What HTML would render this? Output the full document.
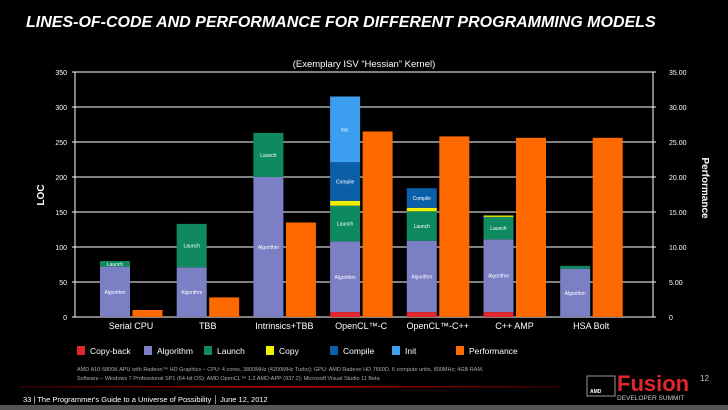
<!DOCTYPE html>
<html><head><meta charset="utf-8"><style>
body{margin:0;background:#000;width:728px;height:410px;overflow:hidden;font-family:"Liberation Sans",sans-serif;color:#fff}
svg{position:absolute;left:0;top:0}
</style></head><body>
<svg width="728" height="410">
<text x="26" y="27" font-size="16" font-weight="bold" font-style="italic" fill="#fff">LINES-OF-CODE AND PERFORMANCE FOR DIFFERENT PROGRAMMING MODELS</text>
<text x="364" y="67" font-size="9.5" fill="#fff" text-anchor="middle">(Exemplary ISV “Hessian” Kernel)</text>
<g id="grid"></g><g id="bars"></g><g id="axes"></g>
<text transform="translate(44,195) rotate(-90)" font-size="10" font-weight="bold" fill="#fff" text-anchor="middle">LOC</text>
<text transform="translate(702,188) rotate(90)" font-size="10" font-weight="bold" fill="#fff" text-anchor="middle">Performance</text>
<g id="legend"></g>
<text x="77" y="371" font-size="5.5" fill="#aaa">AMD A10-5800K APU with Radeon™ HD Graphics – CPU: 4 cores, 3800MHz (4200MHz Turbo); GPU: AMD Radeon HD 7660D, 6 compute units, 800MHz; 4GB RAM.</text>
<text x="77" y="380" font-size="5.5" fill="#aaa">Software – Windows 7 Professional SP1 (64-bit OS); AMD OpenCL™ 1.2 AMD-APP (937.2); Microsoft Visual Studio 11 Beta</text>
<defs><linearGradient id="rl" x1="0" x2="1"><stop offset="0" stop-color="#300"/><stop offset="0.5" stop-color="#c00"/><stop offset="1" stop-color="#300"/></linearGradient></defs>
<rect x="20" y="386" width="540" height="1.5" fill="url(#rl)"/>
<text x="23" y="402" font-size="7.5" fill="#fff">33 | The Programmer's Guide to a Universe of Possibility  │  June 12, 2012</text>
<rect x="0" y="405" width="728" height="5" fill="#555"/>
<g>
<rect x="587" y="376" width="28" height="20" fill="none" stroke="#999" stroke-width="1"/>
<text x="590" y="393" font-size="5" fill="#fff" font-weight="bold">AMD</text>
<text x="617" y="391" font-size="22" fill="#e3262b" font-weight="bold">Fusion</text>
<text x="700" y="381" font-size="8" fill="#ccc">12</text>
<text x="617" y="400" font-size="6.5" fill="#ccc">DEVELOPER SUMMIT</text>
</g>
</svg>
<script>
const categories=["Serial CPU","TBB","Intrinsics+TBB","OpenCL™-C","OpenCL™-C++","C++ AMP","HSA Bolt"];
const copyBack=[0,0,0,7,7,7,0];
const algorithm=[72,71,200,101,102,104,69];
const launch=[8,62,63,51,42,32,4];
const copy=[0,0,0,7,5,2,0];
const compile=[0,0,0,55,28,0,0];
const init=[0,0,0,94,0,0,0];
const performance=[1.0,2.8,13.5,26.5,25.8,25.6,25.6];
const locTicks=[0,50,100,150,200,250,300,350];
const perfTicks=["0","5.00","10.00","15.00","20.00","25.00","30.00","35.00"];
const NS="http://www.w3.org/2000/svg";
const x0=75,x1=653,yB=317,yT=72;
const yL=v=>yB-(v/350)*(yB-yT);
const yP=v=>yB-(v/35)*(yB-yT);
const gx=i=>100+i*76.7;
function mk(t,a,p,txt){const e=document.createElementNS(NS,t);for(const k in a)e.setAttribute(k,a[k]);if(txt!=null)e.textContent=txt;p.appendChild(e);return e;}
const grid=document.getElementById('grid'),bars=document.getElementById('bars'),axes=document.getElementById('axes'),leg=document.getElementById('legend');
locTicks.forEach((v,i)=>{
 const l=mk('line',{x1:x0-3,x2:x1+3,y1:yL(v),y2:yL(v),stroke:'#fff','stroke-width':1},grid);
 
 
 const t=mk('text',{x:x0-8,y:yL(v)+3,'font-size':7,fill:'#fff','text-anchor':'end'},axes,String(v));
 
 
 const t2=mk('text',{x:x1+16,y:yL(v)+3,'font-size':7,fill:'#fff'},axes,perfTicks[i]);
 
 
});
mk('line',{x1:x0,x2:x0,y1:yT,y2:yB,stroke:'#fff'},axes);
mk('line',{x1:x1,x2:x1,y1:yT,y2:yB,stroke:'#fff'},axes);
const series=[["Copy-back",copyBack,"#e3262b"],["Algorithm",algorithm,"#7b7fc4"],["Launch",launch,"#0f8a5f"],["Copy",copy,"#f0f000"],["Compile",compile,"#0a5fa8"],["Init",init,"#3d9ef0"]];
const labels={"Copy-back":"Copy-back","Algorithm":"Algorithm","Launch":"Launch","Copy":"Copy","Compile":"Compile","Init":"Init."};
categories.forEach((c,i)=>{
 let base=0;const x=gx(i);
 series.forEach(([n,arr,col])=>{
  const v=arr[i];if(!v)return;
  const r=mk('rect',{x:x,y:yL(base+v),width:30,height:yL(base)-yL(base+v),fill:col},bars);
  
  
  const h=yL(base)-yL(base+v);
  if(h>=5) mk('text',{x:x+15,y:(yL(base)+yL(base+v))/2+2,'font-size':5,fill:n=="Copy"?'#333':'#fff','text-anchor':'middle'},bars,labels[n]);
  base+=v;
 });
 const p=mk('rect',{x:x+32.5,y:yP(performance[i]),width:30,height:yB-yP(performance[i]),fill:'#ff6a00'},bars);
 
 
 const t=mk('text',{x:x+31,y:329,'font-size':9,fill:'#fff','text-anchor':'middle'},axes,c);
 
 
});
const legItems=[["Copy-back","#e3262b",77],["Algorithm","#7b7fc4",144],["Launch","#0f8a5f",204],["Copy","#f0f000",266],["Compile","#0a5fa8",330],["Init","#3d9ef0",392],["Performance","#ff6a00",456]];
legItems.forEach(([n,col,x])=>{
 const g=mk('g',{},leg);
 
 
 mk('rect',{x:x,y:346,width:8,height:9,fill:col},g);
 mk('text',{x:x+13,y:354,'font-size':8.5,fill:'#fff'},g,n);
});
</script>
</body></html>
